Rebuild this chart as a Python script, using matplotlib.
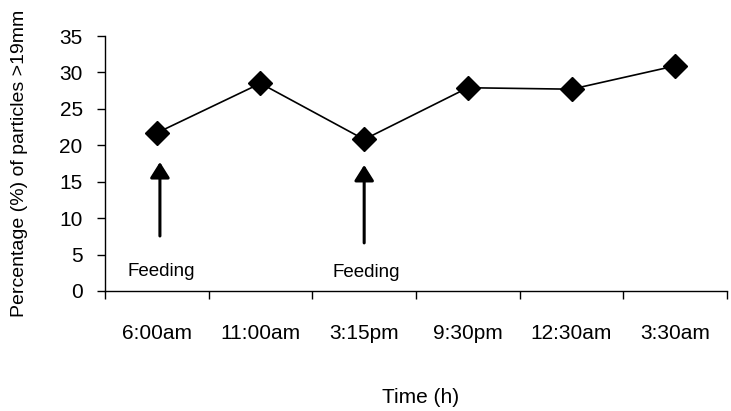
import matplotlib
matplotlib.use("Agg")
import matplotlib.pyplot as plt
import numpy as np

plt.rcParams['font.family'] = ['Liberation Sans', 'DejaVu Sans']

times = ["6:00am", "11:00am", "3:15pm", "9:30pm", "12:30am", "3:30am"]
percent = [21.7, 28.5, 20.8, 27.9, 27.7, 30.9]
feeding_label = "Feeding"

fig = plt.figure(figsize=(7.31, 4.11), dpi=100)
ax = fig.add_axes([0.1436, 0.292, 0.851, 0.6204])

x = np.arange(len(times))
ax.plot(x, percent, color='black', lw=1.2, marker='D', ms=12.5,
        markerfacecolor='black', markeredgecolor='black', zorder=3)

ax.set_xlim(-0.5, len(times) - 0.5)
ax.set_ylim(0, 35)
ax.set_yticks(np.arange(0, 36, 5))

# category boundaries as major ticks, labels centred on minor ticks
ax.set_xticks(np.arange(-0.5, len(times) + 0.5, 1.0))
ax.set_xticklabels([])
ax.set_xticks(x, minor=True)
ax.set_xticklabels(times, minor=True, fontsize=15)
ax.tick_params(axis='x', which='major', direction='out', length=6, width=1)
ax.tick_params(axis='x', which='minor', length=0, pad=24)
ax.tick_params(axis='y', direction='out', length=6, width=1, labelsize=15, pad=10)

for s in ['top', 'right']:
    ax.spines[s].set_visible(False)
for s in ['left', 'bottom']:
    ax.spines[s].set_linewidth(1.0)

# feeding arrows
tails = [7.55, 6.6]
tips = [17.7, 17.3]
offs = [0.03, 2.0]
for xi, t0, t1 in zip(offs, tails, tips):
    ax.annotate("", xy=(xi, t1), xytext=(xi, t0),
                arrowprops=dict(arrowstyle='-|>,head_length=0.35,head_width=0.22',
                                mutation_scale=27, lw=2.2, color='black',
                                shrinkA=0, shrinkB=0))
for xi, yb in zip([0.04, 2.02], [2.05, 1.9]):
    ax.text(xi, yb, feeding_label, ha='center', va='baseline', fontsize=13.5)

fig.text(0.575, 1 - 397 / 411, "Time (h)", ha='center', va='center', fontsize=15)
fig.text(20 / 731, 1 - 163 / 411, "Percentage (%) of particles >19mm",
         rotation=90, ha='center', va='center', fontsize=14)

fig.savefig("out.png", dpi=100)
